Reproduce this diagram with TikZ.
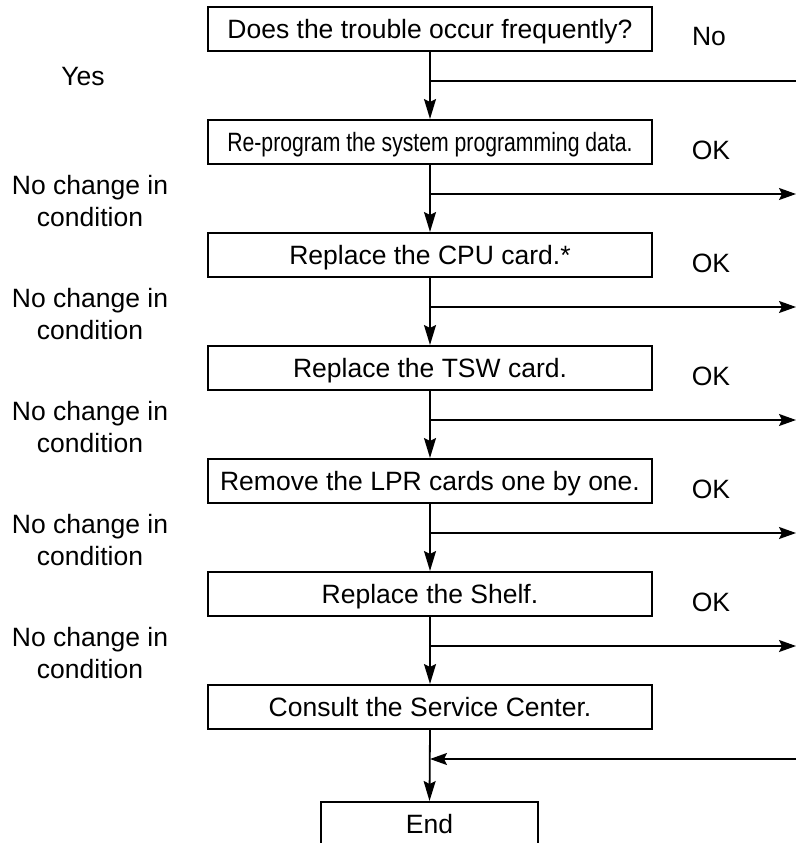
\documentclass[tikz,border=0pt]{standalone}
\usepackage{fontspec}
\setmainfont{Liberation Sans}
\usetikzlibrary{arrows.meta}
\begin{document}
\begin{tikzpicture}[x=1pt,y=1pt,
  every node/.style={font=\fontsize{26.5}{32}\selectfont},
  stepbox/.style={draw, line width=2pt, minimum width=444pt, minimum height=44pt, inner sep=0pt, text height=19pt, text depth=0pt},
  endbox/.style={draw, line width=2pt, minimum width=217pt, minimum height=44pt, inner sep=0pt, text height=19pt, text depth=0pt},
  conn/.style={line width=1.8pt},
  arr/.style={conn, -{Stealth[length=20pt,width=12pt,inset=3pt]}},
  harr/.style={conn, -{Stealth[length=17pt,width=12pt,inset=3pt]}},
  lbl/.style={align=center, inner sep=0pt}]
\clip (0,0) rectangle (796,-843);
% boxes
\node[stepbox] (b1) at (430,-29.5) {Does the trouble occur frequently?};
\node[stepbox] (b2) at (430,-142) {\scalebox{0.8}[1]{Re-program the system programming data.}};
\node[stepbox] (b3) at (430,-255) {Replace the CPU card.*};
\node[stepbox] (b4) at (430,-368) {Replace the TSW card.};
\node[stepbox] (b5) at (430,-481) {Remove the LPR cards one by one.};
\node[stepbox] (b6) at (430,-594) {Replace the Shelf.};
\node[stepbox] (b7) at (430,-707) {Consult the Service Center.};
\node[endbox] (end) at (429.5,-824) {End};
% vertical flow
\draw[arr] (b1.south) -- (b2.north);
\draw[arr] (b2.south) -- (b3.north);
\draw[arr] (b3.south) -- (b4.north);
\draw[arr] (b4.south) -- (b5.north);
\draw[arr] (b5.south) -- (b6.north);
\draw[arr] (b6.south) -- (b7.north);
\draw[arr] (b7.south) -- (end.north);
% branch points
\coordinate (j1) at (430,-81);  \coordinate (r1) at (796,-81);
\coordinate (j2) at (430,-194); \coordinate (r2) at (796,-194);
\coordinate (j3) at (430,-307); \coordinate (r3) at (796,-307);
\coordinate (j4) at (430,-420); \coordinate (r4) at (796,-420);
\coordinate (j5) at (430,-533); \coordinate (r5) at (796,-533);
\coordinate (j6) at (430,-646); \coordinate (r6) at (796,-646);
\coordinate (j7) at (430,-759); \coordinate (r7) at (796,-759);
\draw[conn] (j1) -- (r1);
\draw[harr] (j2) -- (r2);
\draw[harr] (j3) -- (r3);
\draw[harr] (j4) -- (r4);
\draw[harr] (j5) -- (r5);
\draw[harr] (j6) -- (r6);
\draw[harr] (r7) -- (j7);
% right labels
\node[lbl] (no) at (709,-37) {No};
\node[lbl] (ok2) at (711,-150) {OK};
\node[lbl] (ok3) at (711,-263) {OK};
\node[lbl] (ok4) at (711,-376) {OK};
\node[lbl] (ok5) at (711,-489) {OK};
\node[lbl] (ok6) at (711,-602) {OK};
% left labels
\node[lbl] (yes) at (83,-77) {Yes};
\node[lbl] (nc2) at (90,-201) {No change in\\condition};
\node[lbl] (nc3) at (90,-314) {No change in\\condition};
\node[lbl] (nc4) at (90,-427) {No change in\\condition};
\node[lbl] (nc5) at (90,-540) {No change in\\condition};
\node[lbl] (nc6) at (90,-653) {No change in\\condition};
\end{tikzpicture}
\end{document}
